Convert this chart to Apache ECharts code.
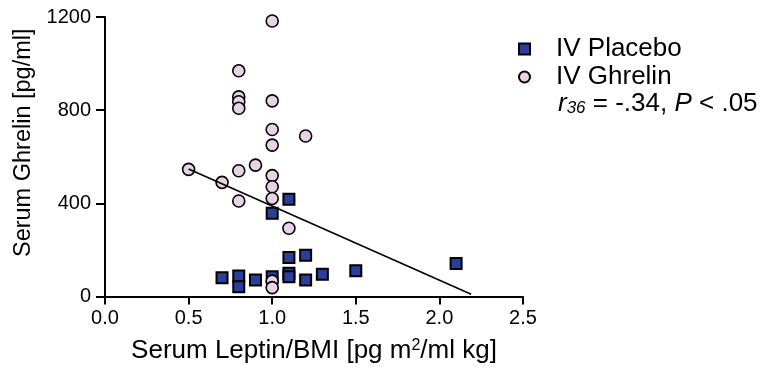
<!DOCTYPE html>
<html><head><meta charset="utf-8">
<script src="https://cdn.jsdelivr.net/npm/echarts@6/dist/echarts.min.js"></script>
<style>html,body{margin:0;padding:0;background:#fff}#c{width:763px;height:374px}</style>
</head><body><div id="c"></div>
<script>
const placeboX = [1.1, 1.0, 1.1, 1.2, 0.7, 0.8, 0.8, 0.9, 1.0, 1.1, 1.1, 1.2, 1.3, 1.5, 2.1];
const placeboY = [417, 357, 167, 177, 81, 88, 42, 71, 85, 100, 85, 71, 95, 111, 142];
const ghrelinX = [1.0, 0.8, 0.8, 0.8, 0.8, 1.0, 1.0, 1.0, 1.2, 0.5, 0.8, 0.9, 1.0, 0.7, 1.0, 1.0, 0.8, 1.1, 1.0, 1.0];
const ghrelinY = [1183, 969, 857, 836, 808, 840, 717, 650, 689, 546, 540, 564, 519, 490, 471, 421, 410, 293, 66, 38];
const fitX = [0.5, 2.19];
const fitY = [547, 10];
const xTicks = [0, 0.5, 1.0, 1.5, 2.0, 2.5];
const yTicks = [0, 400, 800, 1200];

const FONT = 'Liberation Sans, Arial, sans-serif';
const zip = (xs, ys) => xs.map((x, i) => [x, ys[i]]);

const chart = echarts.init(document.getElementById('c'));
chart.setOption({
  animation: false,
  textStyle: { fontFamily: FONT, color: '#000' },
  grid: { left: 105, right: 240, top: 17, bottom: 77.5 },
  xAxis: {
    type: 'value', min: xTicks[0], max: xTicks[xTicks.length - 1], interval: 0.5,
    name: 'Serum Leptin/BMI [pg m{sup|2}/ml kg]',
    nameLocation: 'middle', nameGap: 41,
    nameTextStyle: { fontSize: 26, color: '#000', fontFamily: FONT,
      rich: { sup: { fontSize: 16, verticalAlign: 'top', padding: [0, 0, 10, 0], fontFamily: FONT, color: '#000' } } },
    axisLine: { show: true, onZero: false, lineStyle: { color: '#000', width: 2 } },
    axisTick: { show: true, inside: false, length: 8, lineStyle: { color: '#000', width: 2 } },
    axisLabel: { fontSize: 20, color: '#000', margin: 12, fontFamily: FONT, formatter: v => v.toFixed(1) },
    splitLine: { show: false }
  },
  yAxis: {
    type: 'value', min: yTicks[0], max: yTicks[yTicks.length - 1], interval: 400,
    name: 'Serum Ghrelin [pg/ml]', nameLocation: 'middle', nameGap: 64, nameRotate: 90,
    nameTextStyle: { fontSize: 23.5, color: '#000', fontFamily: FONT, padding: [0, 0, 0, 28] },
    axisLine: { show: true, onZero: false, lineStyle: { color: '#000', width: 2 } },
    axisTick: { show: true, inside: false, length: 9, lineStyle: { color: '#000', width: 2 } },
    axisLabel: { fontSize: 20, color: '#000', margin: 14, fontFamily: FONT, formatter: v => String(v) },
    splitLine: { show: false }
  },
  legend: {
    data: ['IV Placebo', 'IV Ghrelin'], orient: 'vertical',
    left: 513, top: 31, itemWidth: 11, itemHeight: 11, itemGap: 2,
    textStyle: { fontSize: 26, color: '#000', fontFamily: FONT, padding: [0, 0, 0, 21] }
  },
  graphic: [{
    type: 'text', left: 558, top: 91,
    style: {
      text: '{i|r}{sub|36}{n| = -.34, }{i|P}{n| < .05}',
      rich: {
        i: { fontSize: 26, fontStyle: 'italic', fontFamily: FONT, fill: '#000' },
        sub: { fontSize: 17, fontStyle: 'italic', fontFamily: FONT, fill: '#000', verticalAlign: 'bottom', padding: [8, 0, 0, 0] },
        n: { fontSize: 26, fontFamily: FONT, fill: '#000' }
      }
    }
  }],
  series: [
    { name: 'IV Placebo', type: 'scatter', symbol: 'rect', symbolSize: 11, z: 2,
      itemStyle: { color: '#2c3e9c', borderColor: '#000', borderWidth: 2, opacity: 1 },
      data: zip(placeboX, placeboY) },
    { name: 'IV Ghrelin', type: 'scatter', symbol: 'circle', symbolSize: 12, z: 3,
      itemStyle: { color: '#e8d3e6', borderColor: '#000', borderWidth: 1.6, opacity: 1 },
      data: zip(ghrelinX, ghrelinY) },
    { name: 'fit', type: 'line', symbol: 'none', z: 4, silent: true,
      lineStyle: { color: '#000', width: 1.6 },
      data: zip(fitX, fitY) }
  ]
});
</script></body></html>
